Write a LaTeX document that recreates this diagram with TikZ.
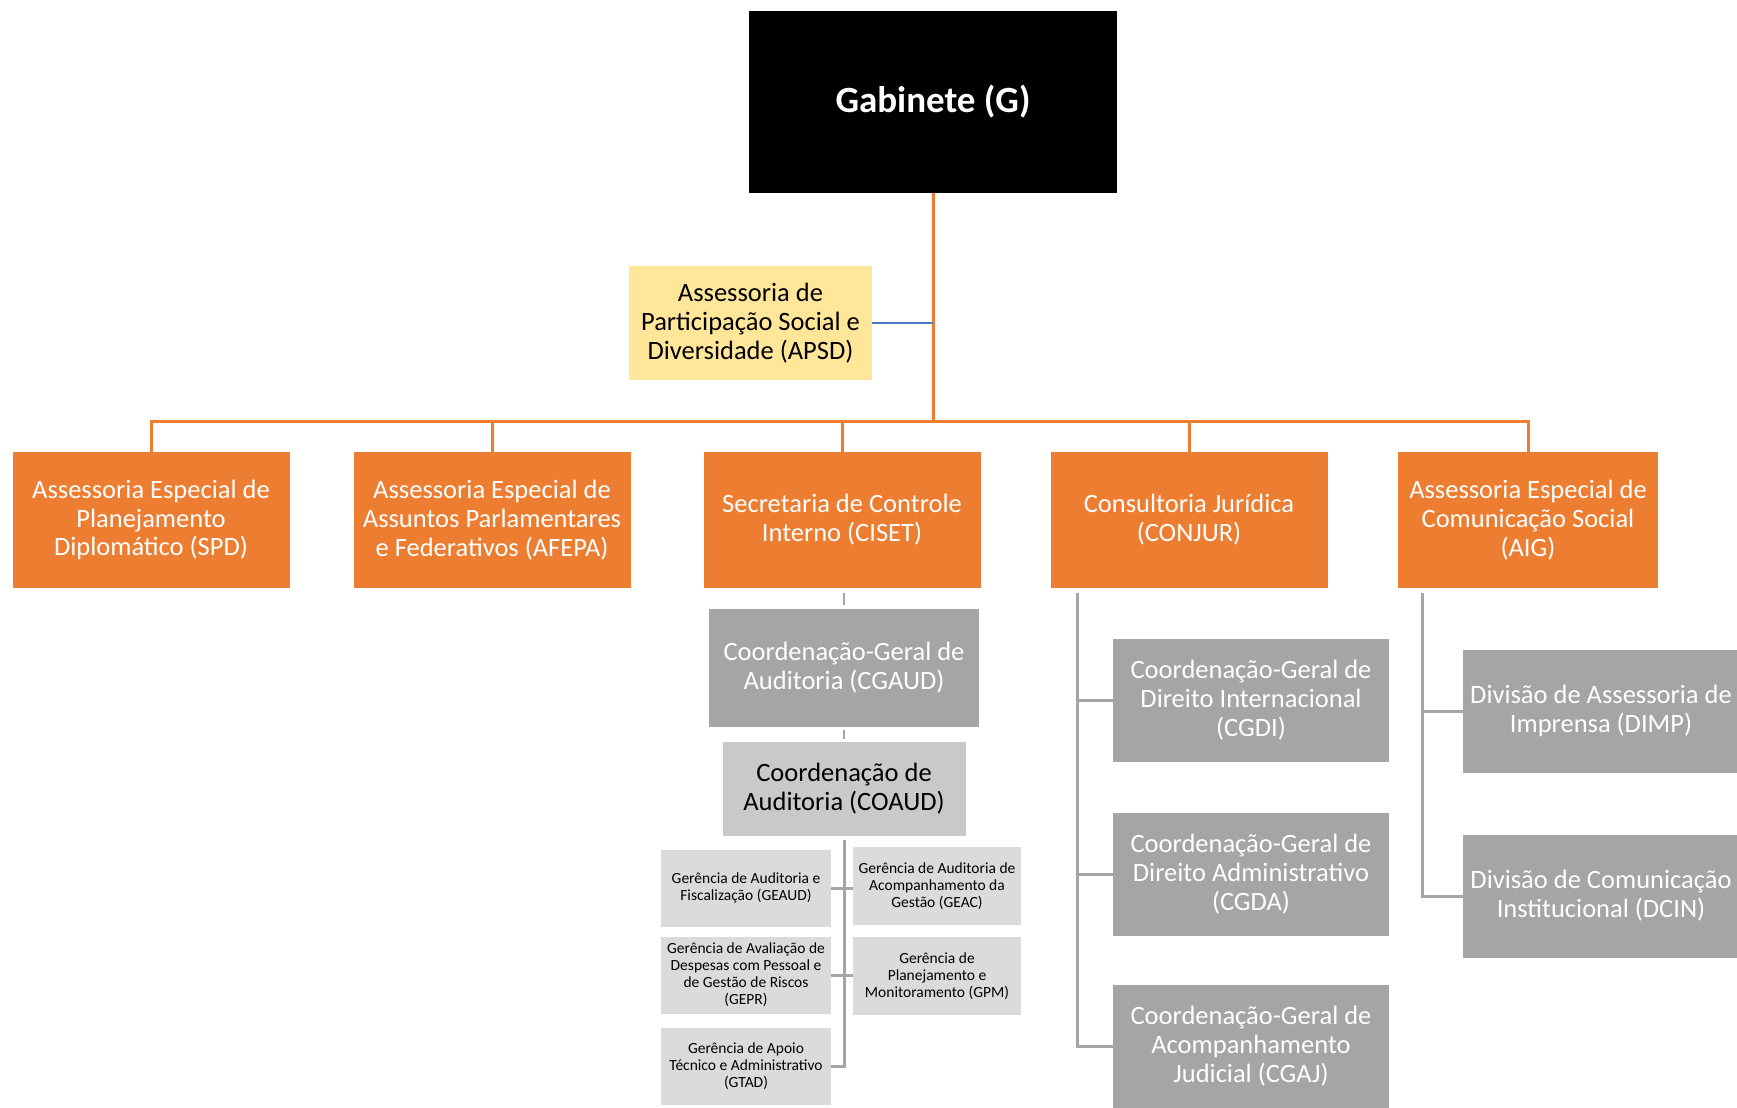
\documentclass[tikz,border=0pt]{standalone}
\usepackage{fontspec}
\setmainfont{Carlito}
\definecolor{orgorange}{HTML}{ED7D31}
\definecolor{orggray}{HTML}{A5A5A5}
\definecolor{orglight}{HTML}{C9C9C9}
\definecolor{orgpale}{HTML}{DBDBDB}
\definecolor{orgyellow}{HTML}{FFE699}
\definecolor{orgblue}{HTML}{4A7EBB}
\begin{document}
\begin{tikzpicture}[x=1pt,y=-1pt,
  box/.style={rectangle, inner sep=0pt, align=center, font=\fontsize{26.5}{28.8}\selectfont},
  topbox/.style={box, fill=orgorange, text=white, minimum width=277pt, minimum height=136pt},
  graybox/.style={box, fill=orggray, text=white, minimum width=276pt, minimum height=123pt},
  smallbox/.style={box, fill=orgpale, minimum width=170pt, minimum height=77pt, font=\fontsize{15.5}{17}\selectfont},
  orangeline/.style={draw=orgorange, line width=3pt},
  grayline/.style={draw=orggray, line width=3pt}]
\useasboundingbox (0,0) rectangle (1737,1108);
\node[box, fill=black, text=white, minimum width=368pt, minimum height=182pt, font=\fontsize{37}{40}\selectfont\bfseries] (gab) at (933,102) {Gabinete (G)};
\node[box, fill=orgyellow, minimum width=243pt, minimum height=114pt] (apsd) at (750.5,323) {Assessoria de\\Participação Social e\\Diversidade (APSD)};
\coordinate (bus) at (933,421);
\node[topbox] (spd) at (151,520) {Assessoria Especial de\\Planejamento\\Diplomático (SPD)};
\node[topbox] (afepa) at (492,520) {Assessoria Especial de\\Assuntos Parlamentares\\e Federativos (AFEPA)};
\node[topbox] (ciset) at (842,520) {Secretaria de Controle\\Interno (CISET)};
\node[topbox] (conjur) at (1189,520) {Consultoria Jurídica\\(CONJUR)};
\node[topbox, minimum width=260pt] (aig) at (1528,520) {Assessoria Especial de\\Comunicação Social\\(AIG)};
\draw[orangeline] (gab.south) -- (bus);
\foreach \n in {spd,afepa,ciset,conjur,aig}
  \draw[orangeline] (\n.north) |- (bus);
\draw[draw=orgblue, line width=2.5pt] (apsd.east) -- (apsd.east -| gab.south);
% CISET
\node[graybox, minimum width=270pt, minimum height=118pt] (cgaud) at (844,668) {Coordenação-Geral de\\Auditoria (CGAUD)};
\node[box, fill=orglight, minimum width=243pt, minimum height=94pt] (coaud) at (844,789) {Coordenação de\\Auditoria (COAUD)};
\node[smallbox] (geaud) at (746,888) {Gerência de Auditoria e\\Fiscalização (GEAUD)};
\node[smallbox] (gepr) at (746,975) {Gerência de Avaliação de\\Despesas com Pessoal e\\de Gestão de Riscos\\(GEPR)};
\node[smallbox] (gtad) at (746,1066) {Gerência de Apoio\\Técnico e Administrativo\\(GTAD)};
\node[smallbox, minimum width=168pt, minimum height=78pt] (geac) at (937,886) {Gerência de Auditoria de\\Acompanhamento da\\Gestão (GEAC)};
\node[smallbox, minimum width=168pt, minimum height=78pt] (gpm) at (937,976) {Gerência de\\Planejamento e\\Monitoramento (GPM)};
\draw[grayline, line width=2pt, shorten <=4pt, shorten >=5pt] (cgaud.north) -- (cgaud.north |- ciset.south);
\draw[grayline, line width=2pt, shorten <=3pt, shorten >=3pt] (coaud.north) -- (coaud.north |- cgaud.south);
\draw[grayline, shorten <=4pt] (coaud.south) |- (gtad.east);
\draw[grayline] (geaud.east) -- (geac.west |- geaud.east);
\draw[grayline] (gepr.east) -- (gpm.west |- gepr.east);
% CONJUR
\coordinate (conjurtop) at (1077,593);
\node[graybox] (cgdi) at (1251,700) {Coordenação-Geral de\\Direito Internacional\\(CGDI)};
\node[graybox] (cgda) at (1251,874) {Coordenação-Geral de\\Direito Administrativo\\(CGDA)};
\node[graybox] (cgaj) at (1251,1046) {Coordenação-Geral de\\Acompanhamento\\Judicial (CGAJ)};
\draw[grayline] (conjurtop) |- (cgaj.west);
\draw[grayline] (cgdi.west) -- (cgdi.west -| conjurtop);
\draw[grayline] (cgda.west) -- (cgda.west -| conjurtop);
% AIG
\coordinate (aigtop) at (1422,593);
\node[graybox] (dimp) at (1601,711) {Divisão de Assessoria de\\Imprensa (DIMP)};
\node[graybox] (dcin) at (1601,896) {Divisão de Comunicação\\Institucional (DCIN)};
\draw[grayline] (aigtop) |- (dcin.west);
\draw[grayline] (dimp.west) -- (dimp.west -| aigtop);
\end{tikzpicture}
\end{document}
